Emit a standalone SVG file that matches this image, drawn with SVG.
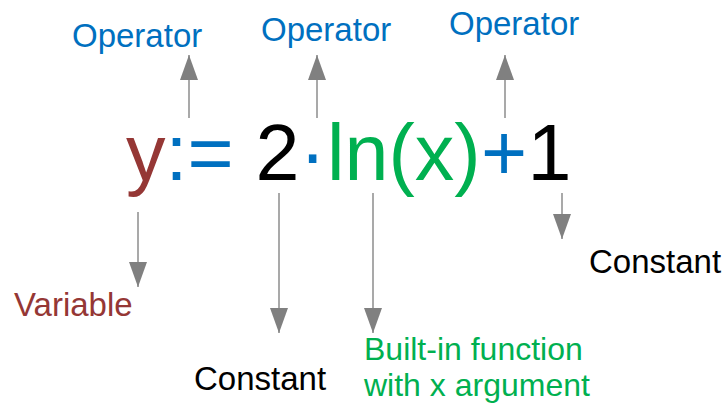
<svg xmlns="http://www.w3.org/2000/svg" width="726" height="407" viewBox="0 0 726 407">
<style>
text{font-family:"Liberation Sans",Arial,sans-serif}
.lbl{font-size:33px}
.lbl2{font-size:32px}
.eq{font-size:79px}
.blue{fill:#0070C0}
.green{fill:#00B050}
.brown{fill:#953735}
.black{fill:#000}
.arr{stroke:#8c8c8c;stroke-width:1.5;fill:none;marker-end:url(#ah)}
</style>
<defs>
<marker id="ah" viewBox="0 -9 25 18" refX="25" refY="0" markerWidth="25" markerHeight="18" markerUnits="userSpaceOnUse" orient="auto">
<path d="M0,-9 L25,0 L0,9 Z" fill="#808080"/>
</marker>
</defs>
<rect width="726" height="407" fill="#fff"/>
<g id="equation">
<text class="eq" y="180"><tspan x="126" class="brown">y</tspan><tspan class="blue">:=</tspan><tspan x="255.6" class="black">2</tspan><tspan x="299.5" class="blue">·</tspan><tspan x="327" class="green">ln(x)</tspan><tspan x="481" class="blue">+</tspan><tspan x="527.5" class="black">1</tspan></text>
</g>
<g id="connectors">
<line class="arr" x1="189" y1="118" x2="189" y2="55"/>
<line class="arr" x1="317" y1="118" x2="317" y2="55"/>
<line class="arr" x1="505" y1="118" x2="505" y2="55"/>
<line class="arr" x1="138" y1="212" x2="138" y2="287"/>
<line class="arr" x1="279" y1="193" x2="279" y2="333"/>
<line class="arr" x1="373" y1="193" x2="373" y2="333"/>
<line class="arr" x1="562" y1="193" x2="562" y2="239"/>
</g>
<g id="op1"><text class="lbl blue" x="72" y="47">Operator</text></g>
<g id="op2"><text class="lbl blue" x="261" y="41">Operator</text></g>
<g id="op3"><text class="lbl blue" x="449" y="35">Operator</text></g>
<g id="variable"><text class="lbl brown" x="14" y="316">Variable</text></g>
<g id="const1"><text class="lbl black" x="194" y="390">Constant</text></g>
<g id="builtin"><text class="lbl2 green" x="364" y="360">Built-in function</text><text class="lbl2 green" x="364" y="396">with x argument</text></g>
<g id="const2"><text class="lbl black" x="589" y="273">Constant</text></g>
</svg>
